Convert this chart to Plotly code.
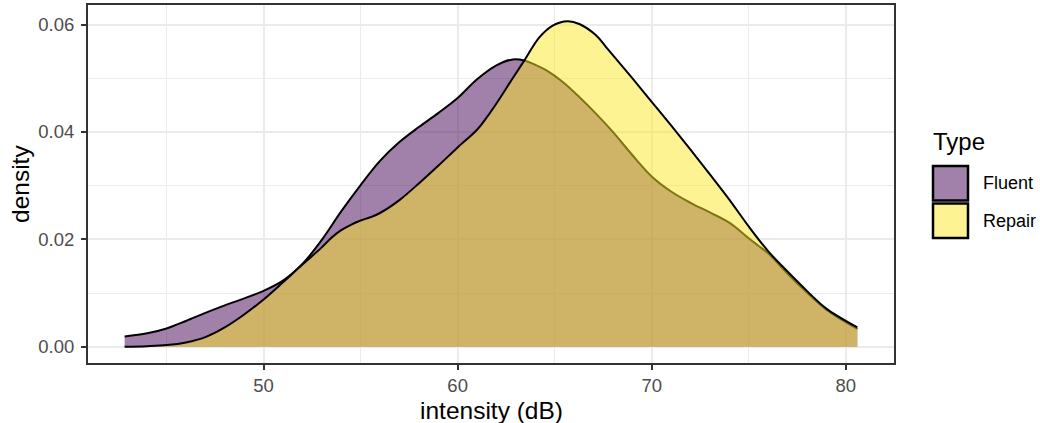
import plotly.graph_objects as go

# ---- data ----
fluent_x = [42.84, 44.0, 45.0, 46.0, 47.0, 48.0, 49.0, 50.0, 51.0, 52.0,
            53.0, 54.0, 55.0, 56.0, 57.0, 58.0, 59.0, 60.0, 61.0, 62.0,
            62.84, 63.44, 64.0, 64.56, 65.42, 66.27, 67.13, 68.0, 69.0, 70.0,
            71.0, 72.0, 73.0, 74.0, 75.0, 75.5, 76.0, 77.0, 78.0, 79.0, 80.6]
fluent_y = [0.0019, 0.0025, 0.0034, 0.0048, 0.0063, 0.0077, 0.0090, 0.0104, 0.0123, 0.0154,
            0.0199, 0.0252, 0.0301, 0.0346, 0.0381, 0.0409, 0.0435, 0.0463, 0.0498, 0.0524,
            0.0535, 0.0533, 0.0525, 0.0515, 0.0493, 0.0465, 0.0434, 0.0400, 0.0357, 0.0317,
            0.0289, 0.0268, 0.0250, 0.0231, 0.0202, 0.0188, 0.0174, 0.0136, 0.0101, 0.0069, 0.0033]

repair_x = [42.84, 44.0, 45.0, 46.0, 47.0, 48.0, 49.0, 50.0, 51.0, 52.0,
            53.0, 53.5, 54.0, 54.5, 55.0, 55.5, 56.0, 57.0, 58.0, 59.0,
            60.0, 61.0, 61.5, 62.0, 62.84, 63.44, 64.21, 64.9, 65.67, 66.27,
            67.13, 67.65, 68.0, 69.0, 70.0, 71.0, 72.0, 73.0, 74.0, 75.0,
            76.0, 77.0, 78.0, 79.0, 80.6]
repair_y = [0.0000, 0.0001, 0.0003, 0.0008, 0.0018, 0.0036, 0.0060, 0.0088, 0.0120, 0.0153,
            0.0185, 0.0203, 0.0217, 0.0227, 0.0235, 0.0241, 0.0249, 0.0273, 0.0304, 0.0337,
            0.0371, 0.0404, 0.0427, 0.0453, 0.0500, 0.0533, 0.0576, 0.0598, 0.0606, 0.0601,
            0.0580, 0.0558, 0.0543, 0.0500, 0.0456, 0.0412, 0.0367, 0.0321, 0.0274, 0.0224,
            0.0178, 0.0140, 0.0104, 0.0071, 0.0036]

type_names = ["Fluent", "Repair"]
type_fill = ["rgba(68,1,84,0.5)", "rgba(253,231,37,0.5)"]
x_ticks = [50, 60, 70, 80]
y_ticks = [0.00, 0.02, 0.04, 0.06]
y_tick_text = ["0.00", "0.02", "0.04", "0.06"]

FONT = "Liberation Sans, Arial, Helvetica, sans-serif"
W, H = 1040, 423
ML, MR, MT, MB = 88, 146, 5, 60
PW, PH = W - ML - MR, H - MT - MB


def px_x(p):
    return (p - ML) / PW


def px_y(p):
    return (H - MB - p) / PH


fig = go.Figure()
for name, xs, ys, fc in [(type_names[0], fluent_x, fluent_y, type_fill[0]),
                         (type_names[1], repair_x, repair_y, type_fill[1])]:
    fig.add_trace(go.Scatter(
        x=xs, y=ys, name=name, mode="lines", fill="tozeroy", fillcolor=fc,
        line=dict(color="black", width=2, shape="spline", smoothing=1.0),
        showlegend=False, hoverinfo="x+y+name"))

all_x = fluent_x + repair_x
all_y = fluent_y + repair_y + [0]
xr = max(all_x) - min(all_x)
yr = max(all_y) - min(all_y)
x_range = [min(all_x) - 0.05 * xr, max(all_x) + 0.05 * xr]
y_range = [min(all_y) - 0.05 * yr, max(all_y) + 0.05 * yr]

axis_common = dict(
    showline=True, mirror=True, linecolor="#333333", linewidth=2,
    showgrid=True, gridcolor="#EBEBEB", gridwidth=2,
    ticks="outside", ticklen=5, tickwidth=2, tickcolor="#333333",
    tickfont=dict(family=FONT, size=18.5, color="#4D4D4D"),
    zeroline=False, automargin=False,
)
fig.update_xaxes(range=x_range, tickmode="array", tickvals=x_ticks,
                 ticktext=[str(v) for v in x_ticks],
                 minor=dict(tickvals=[45, 55, 65, 75], showgrid=True,
                            gridcolor="#EBEBEB", gridwidth=1, ticks=""),
                 **axis_common)
fig.update_yaxes(range=y_range, tickmode="array", tickvals=y_ticks,
                 ticktext=y_tick_text, ticklabelstandoff=3,
                 minor=dict(tickvals=[0.01, 0.03, 0.05], showgrid=True,
                            gridcolor="#EBEBEB", gridwidth=1, ticks=""),
                 **axis_common)

annotations = [
    dict(text="intensity (dB)", xref="paper", yref="paper",
         x=px_x((88.5 + 894.3) / 2), y=px_y(410), xanchor="center", yanchor="middle",
         showarrow=False, font=dict(family=FONT, size=24.5, color="black")),
    dict(text="density", xref="paper", yref="paper", textangle=-90,
         x=px_x(20), y=px_y(184), xanchor="center", yanchor="middle",
         showarrow=False, font=dict(family=FONT, size=24.5, color="black")),
    dict(text="Type", xref="paper", yref="paper", x=px_x(930.5), y=px_y(141),
         xanchor="left", yanchor="middle", showarrow=False,
         font=dict(family=FONT, size=24, color="black")),
]
shapes = []
key_tops = [166, 203.5]
for name, fc, top in zip(type_names, type_fill, key_tops):
    shapes.append(dict(type="rect", xref="paper", yref="paper",
                       x0=px_x(933), x1=px_x(968), y0=px_y(top), y1=px_y(top + 34.5),
                       fillcolor=fc, line=dict(color="black", width=2.5)))
    annotations.append(dict(text=name, xref="paper", yref="paper",
                            x=px_x(981), y=px_y(top + 17.25), xanchor="left", yanchor="middle",
                            showarrow=False, font=dict(family=FONT, size=18, color="black")))

fig.update_layout(
    width=W, height=H, margin=dict(l=ML, r=MR, t=MT, b=MB, autoexpand=False),
    paper_bgcolor="white", plot_bgcolor="white",
    annotations=annotations, shapes=shapes, showlegend=False,
)
fig.write_html(
    "out.html",
    config={"displayModeBar": False},
    post_script="document.body.style.margin='0';document.body.style.padding='0';"
                "document.documentElement.style.overflow='hidden';",
)
